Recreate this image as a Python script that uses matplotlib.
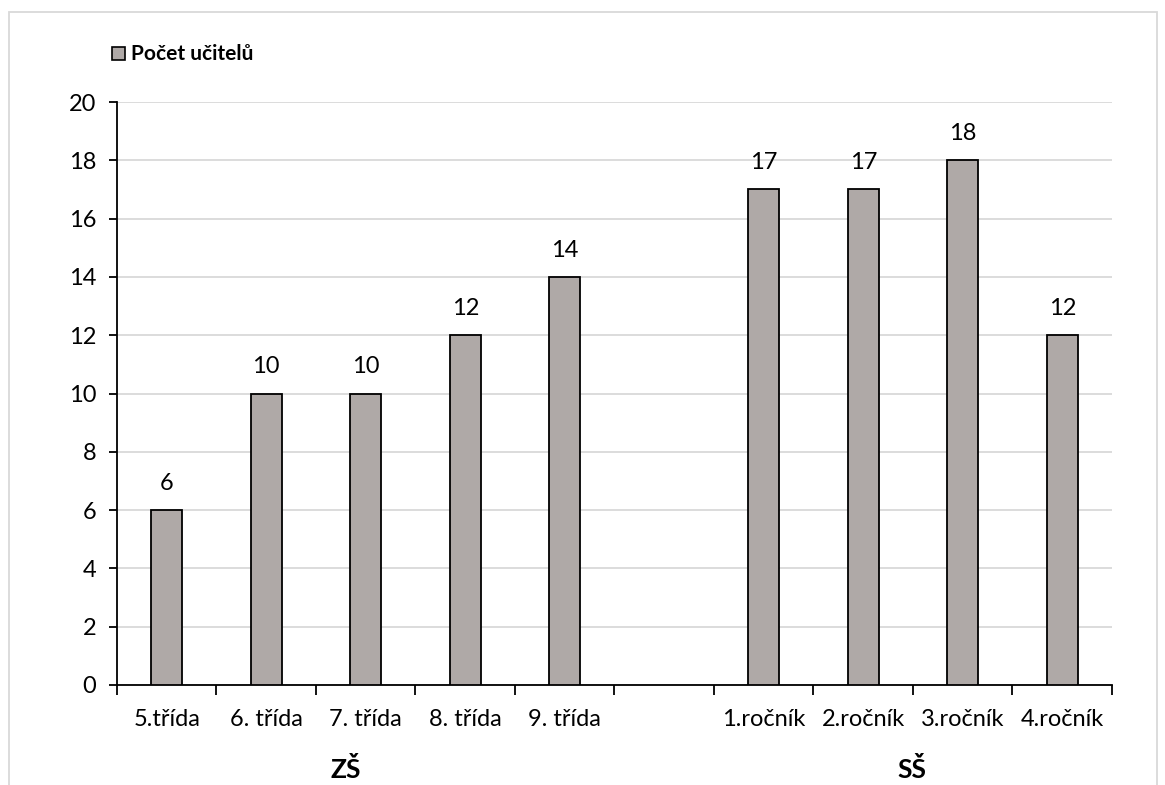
import matplotlib
matplotlib.use("Agg")
import matplotlib.pyplot as plt
from matplotlib.patches import Rectangle
import numpy as np

plt.rcParams['font.family'] = ['Lato', 'DejaVu Sans']

# categories (empty slot separates the two school levels)
categories = ['5.třída', '6. třída', '7. třída', '8. třída', '9. třída', '',
              '1.ročník', '2.ročník', '3.ročník', '4.ročník']
values = [6, 10, 10, 12, 14, None, 17, 17, 18, 12]
groups = ['ZŠ', 'SŠ']
group_pos = [1.80, 7.49]
series_name = 'Počet učitelů'

bar_color = '#afa9a7'
fs = 17

fig = plt.figure(figsize=(11.65, 7.85), dpi=100)
ax = fig.add_axes([0.1004, 0.1274, 0.8541, 0.7426])

x = np.arange(len(categories))
for xi, v in zip(x, values):
    if v is None:
        continue
    ax.bar(xi, v, width=0.31, color=bar_color, edgecolor='black', linewidth=1.3, zorder=3)
    ax.text(xi, v + 0.55, str(v), ha='center', va='bottom', fontsize=fs)

ax.set_xlim(-0.5, len(categories) - 0.5)
ax.set_ylim(0, 20)
ax.set_yticks(range(0, 21, 2))
ax.yaxis.grid(True, color='#d9d9d9', linewidth=1.3, zorder=0)
ax.set_axisbelow(True)

# ticks between categories, labels centred in each slot
ax.set_xticks(np.arange(-0.5, len(categories), 1.0))
ax.set_xticklabels([])
ax.set_xticks(x, minor=True)
ax.set_xticklabels(categories, minor=True, fontsize=fs)
ax.tick_params(axis='x', which='major', direction='out', length=7, width=1.3, color='black')
ax.tick_params(axis='x', which='minor', length=0, pad=17)
ax.tick_params(axis='y', direction='out', length=6, width=1.3, labelsize=fs, pad=9)

for s in ['top', 'right']:
    ax.spines[s].set_visible(False)
ax.spines['left'].set_linewidth(1.3)
ax.spines['bottom'].set_linewidth(1.3)

for g, gp in zip(groups, group_pos):
    ax.text(gp, -2.9, g, ha='center', va='center', fontsize=19, fontweight='bold',
            transform=ax.transData, clip_on=False)

# legend drawn by hand at top left
fig.patches.append(Rectangle((112 / 1165, 1 - 60 / 785), 13 / 1165, 13 / 785,
                             transform=fig.transFigure, facecolor=bar_color,
                             edgecolor='black', linewidth=1.2))
fig.text(131 / 1165, 1 - 54 / 785, series_name, ha='left', va='center',
         fontsize=15, fontweight='bold')

# light frame round the chart
fig.patches.append(Rectangle((9 / 1165, -0.05), 1148 / 1165, 1.05 - 12 / 785,
                             transform=fig.transFigure, fill=False,
                             edgecolor='#d9d9d9', linewidth=1.3))

fig.savefig('out.png', dpi=100)
